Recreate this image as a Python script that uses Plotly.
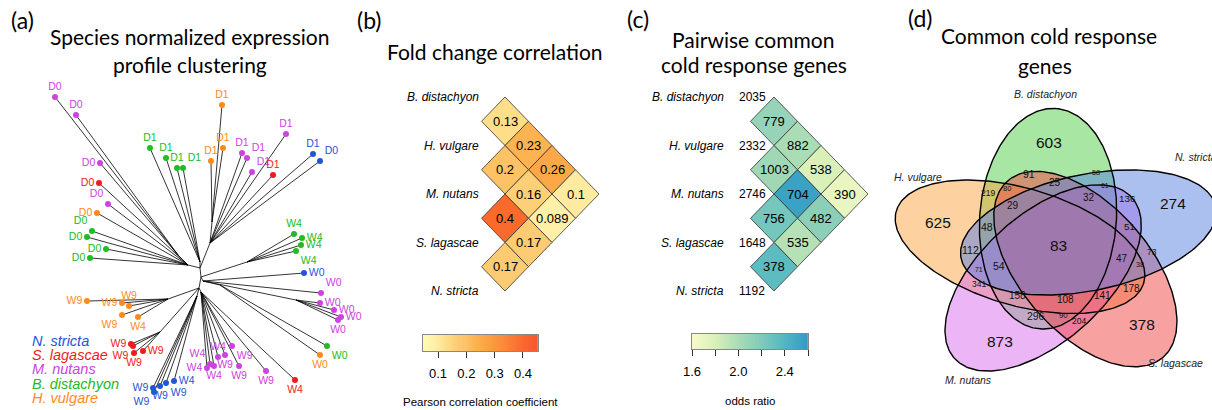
import numpy as np
import plotly.graph_objects as go
from plotly.colors import sample_colorscale

W, H = 1212, 410

# ======================= DATA =======================
species = ["B. distachyon", "H. vulgare", "M. nutans", "S. lagascae", "N. stricta"]
species_code = ["B", "H", "M", "S", "N"]

# ---- (a) expression-profile tree (leaf layout) ----
legend_order = ["N", "S", "M", "B", "H"]
leaf_label = ["D0"] * 10 + ["D1"] * 4 + ["D1"] * 9 + ["D0"] + ["W4"] * 4 + ["W0"] + \
             ["W0"] * 5 + ["W0", "W0"] + ["W4"] + ["W9"] * 4 + ["W4"] * 4 + \
             ["W9"] * 4 + ["W4"] + ["W9"] * 4 + ["W9"] * 4 + ["W4"]
leaf_species = ["M", "M", "M", "S", "M", "H", "B", "B", "B", "B",
                "B", "B", "B", "B",
                "H", "H", "H", "M", "M", "M", "M", "S", "N", "N",
                "B", "B", "B", "B",
                "N",
                "M", "M", "M", "M", "M",
                "B", "H",
                "S",
                "M", "M", "M", "M", "M", "M", "M", "M",
                "N", "N", "N", "N", "N",
                "S", "S", "S", "S",
                "H", "H", "H", "H", "H"]
leaf_x = [55, 76, 100, 99, 108, 97, 92, 87, 106, 90,
          150, 166, 177, 183,
          222, 211, 223, 242, 247, 252, 286, 273, 313, 320,
          294, 302, 301, 296,
          304,
          321, 320, 334, 341, 338,
          327, 320,
          295,
          266, 239, 232, 225, 218, 214, 210, 207,
          153, 154, 160, 166, 174,
          131, 133, 134, 143,
          87, 122, 129, 122, 138]
leaf_y = [97, 115, 163, 183, 204, 213, 231, 237, 249, 258,
          148, 158, 168, 168,
          105, 161, 148, 153, 158, 172, 134, 175, 154, 161,
          234, 238, 245, 251,
          273,
          293, 303, 310, 317, 320,
          346, 355,
          380,
          371, 366, 346, 355, 357, 366, 364, 368,
          388, 392, 386, 383, 381,
          344, 346, 353, 351,
          301, 303, 306, 315, 317]
leaf_parent = ["Dm"] * 3 + ["Dn"] * 7 + ["Dg"] * 4 + ["Dho"] * 3 + ["Do"] * 7 + \
              ["Wg"] * 4 + ["Bn", "Bn"] + ["Wm"] * 4 + ["Wgo"] * 2 + ["Lm"] * 9 + \
              ["Lb"] * 5 + ["Lr"] * 4 + ["Lo"] * 5
node_name = ["R", "A", "Dn", "Dm", "Dg", "Do", "Dho", "Wg", "Bn", "Wm", "Wgo",
             "L", "Lm", "Lb", "Lr", "Lo"]
node_x = [201, 200, 188, 178, 200, 210, 212, 247, 203, 296, 220, 199, 201, 197, 160, 168]
node_y = [277, 268, 265, 255, 262, 243, 222, 262, 281, 300, 285, 288, 292, 296, 332, 299]
node_parent = [None, "R", "A", "Dn", "A", "A", "Do", "R", "R", "Bn", "Bn",
               "R", "L", "L", "L", "L"]

# ---- (b) fold change correlation ----
pair_a = [0, 0, 0, 0, 1, 1, 1, 2, 2, 3]
pair_b = [1, 2, 3, 4, 2, 3, 4, 3, 4, 4]
fold_corr = [0.13, 0.23, 0.26, 0.1, 0.2, 0.16, 0.089, 0.4, 0.17, 0.17]
corr_ticks = [0.1, 0.2, 0.3, 0.4]

# ---- (c) pairwise common cold response genes ----
species_total = [2035, 2332, 2746, 1648, 1192]
common_genes = [779, 882, 538, 390, 1003, 704, 482, 756, 535, 378]
odds_ratio = [2.1, 2.0, 1.8, 1.7, 2.05, 2.55, 2.15, 2.25, 1.95, 2.35]
odds_ticks = [1.6, 1.8, 2.0, 2.2, 2.4, 2.6]
odds_ticktext = ["1.6", "", "2.0", "", "2.4", ""]

# ---- (d) five-set Venn counts ----
venn_counts = [603, 625, 873, 378, 274, 83,
               91, 58, 25, 219, 80, 61, 136, 29, 32, 48, 51,
               112, 47, 73, 54, 71, 38, 341, 158, 108, 141, 178, 296, 90, 204]

# ======================= STYLE / LAYOUT =======================
sp_color = {"B": "#22bb22", "H": "#ff8a1c", "M": "#cc44dd", "S": "#ee1c1c", "N": "#1f55d8"}
TXT = "Liberation Sans, Arial, sans-serif"
TTL = "Lato, Open Sans, sans-serif"

fig = go.Figure()

# ---------- (a) tree ----------
nodes = {n: (x, y) for n, x, y in zip(node_name, node_x, node_y)}
ex, ey = [], []
for n, p in zip(node_name, node_parent):
    if p is None:
        continue
    ex += [nodes[p][0], nodes[n][0], None]
    ey += [nodes[p][1], nodes[n][1], None]
for x, y, p in zip(leaf_x, leaf_y, leaf_parent):
    ex += [nodes[p][0], x, None]
    ey += [nodes[p][1], y, None]
fig.add_trace(go.Scatter(x=ex, y=ey, mode="lines", line=dict(color="black", width=0.8),
                         hoverinfo="skip", showlegend=False))

leaf_textpos = ["top center", "top center", "middle left", "middle left", "top left",
                "middle left", "top left", "middle left", "middle left", "middle left",
                "top center", "top center", "top center", "top right",
                "top center", "top center", "top center", "top center", "top right",
                "top right", "top center", "top center", "top center", "top right",
                "top center", "middle right", "middle right", "bottom right",
                "middle right",
                "top right", "middle right", "middle right", "middle right", "bottom center",
                "bottom right", "bottom center",
                "bottom center",
                "bottom center", "bottom center", "bottom right", "bottom center",
                "top center", "bottom center", "top left", "middle left",
                "middle left", "bottom left", "bottom center", "bottom right", "middle right",
                "middle left", "bottom left", "bottom center", "middle right",
                "middle left", "middle left", "top center", "bottom left", "bottom center"]

for code in species_code:
    idx = [i for i, s in enumerate(leaf_species) if s == code]
    fig.add_trace(go.Scatter(
        x=[leaf_x[i] for i in idx], y=[leaf_y[i] for i in idx],
        text=[leaf_label[i] for i in idx],
        textposition=[leaf_textpos[i] for i in idx],
        mode="markers+text",
        marker=dict(color=sp_color[code], size=6),
        textfont=dict(family=TXT, size=10.5, color=sp_color[code]),
        hoverinfo="skip", showlegend=False, cliponaxis=False))

annotations = []
for k, code in enumerate(legend_order):
    annotations.append(dict(x=30, y=341 + 14.2 * k, xref="x", yref="y", xanchor="left",
                            yanchor="middle", showarrow=False,
                            text="<i>%s</i>" % species[species_code.index(code)],
                            font=dict(family=TXT, size=14.5, color=sp_color[code])))

# ---------- heat-triangle helper ----------
ROW_Y0, ROW_DY, HALF_W = 97, 48.5, 23.5


def diamond(cx, cy):
    hh = ROW_DY / 2
    return [cx - HALF_W, cx, cx + HALF_W, cx, cx - HALF_W], [cy, cy - hh, cy, cy + hh, cy]


# ---------- (b) ----------
corr_min, corr_max = 0.047, 0.453
corr_scale = [[0.0, "#fffcb2"], [0.10, "#fff0a8"], [0.2, "#fedf8a"], [0.30, "#fdcb72"],
              [0.38, "#fdc266"], [0.45, "#fdb352"], [0.52, "#fca948"], [0.70, "#fb8a3a"],
              [0.87, "#f96a2c"], [1.0, "#f9552c"]]
B_X0 = 505
for a, b, v in zip(pair_a, pair_b, fold_corr):
    cx = B_X0 + HALF_W * (b - a - 1)
    cy = ROW_Y0 + ROW_DY * (a + b) / 2
    col = sample_colorscale(corr_scale, [(v - corr_min) / (corr_max - corr_min)])[0]
    xs, ys = diamond(cx, cy)
    fig.add_trace(go.Scatter(x=xs, y=ys, mode="lines", fill="toself", fillcolor=col,
                             line=dict(color="#333333", width=0.8), hoverinfo="skip",
                             showlegend=False))
    annotations.append(dict(x=cx, y=cy, xref="x", yref="y", showarrow=False,
                            text=f"{v:g}", font=dict(family=TXT, size=13, color="black")))
for i, s in enumerate(species):
    annotations.append(dict(x=481, y=ROW_Y0 + ROW_DY * i, xref="x", yref="y",
                            xanchor="right", showarrow=False, text="<i>%s</i>" % s,
                            font=dict(family=TXT, size=12, color="black")))

# ---------- (c) ----------
odds_min, odds_max = 1.6, 2.6
odds_scale = [[0.0, "#f8fbcb"], [0.2, "#d9f0b9"], [0.4, "#aadcb5"], [0.55, "#8ccfb9"],
              [0.75, "#5dbcc0"], [0.95, "#3aa2c4"], [1.0, "#3399c2"]]
C_X0 = 774
for a, b, n, v in zip(pair_a, pair_b, common_genes, odds_ratio):
    cx = C_X0 + HALF_W * (b - a - 1)
    cy = ROW_Y0 + ROW_DY * (a + b) / 2
    col = sample_colorscale(odds_scale, [(v - odds_min) / (odds_max - odds_min)])[0]
    xs, ys = diamond(cx, cy)
    fig.add_trace(go.Scatter(x=xs, y=ys, mode="lines", fill="toself", fillcolor=col,
                             line=dict(color="#333333", width=0.8), hoverinfo="skip",
                             showlegend=False))
    annotations.append(dict(x=cx, y=cy, xref="x", yref="y", showarrow=False,
                            text=str(n), font=dict(family=TXT, size=13, color="black")))
for i, (s, t) in enumerate(zip(species, species_total)):
    annotations.append(dict(x=726, y=ROW_Y0 + ROW_DY * i, xref="x", yref="y",
                            xanchor="right", showarrow=False, text="<i>%s</i>" % s,
                            font=dict(family=TXT, size=12, color="black")))
    annotations.append(dict(x=737, y=ROW_Y0 + ROW_DY * i, xref="x", yref="y",
                            xanchor="left", showarrow=False, text=str(t),
                            font=dict(family=TXT, size=12, color="black")))

# ---------- colour bars (own axes) ----------
grad_b = np.linspace(corr_min, corr_max, 300)
fig.add_trace(go.Heatmap(x=grad_b, y=[0.5], z=[grad_b], colorscale=corr_scale,
                         zmin=corr_min, zmax=corr_max, showscale=False, hoverinfo="skip",
                         xaxis="x2", yaxis="y2"))
grad_c = np.linspace(odds_min, odds_max, 300)
fig.add_trace(go.Heatmap(x=grad_c, y=[0.5], z=[grad_c], colorscale=odds_scale,
                         zmin=odds_min, zmax=odds_max, showscale=False, hoverinfo="skip",
                         xaxis="x3", yaxis="y3"))
annotations.append(dict(x=480, y=402, xref="x", yref="y", showarrow=False,
                        text="Pearson correlation coefficient",
                        font=dict(family=TXT, size=11.5, color="black")))
annotations.append(dict(x=750, y=401, xref="x", yref="y", showarrow=False,
                        text="odds ratio", font=dict(family=TXT, size=11.5, color="black")))

# ---------- (d) Venn ----------
V_CX, V_CY, V_SX, V_SY = 1057, 249, 285, 240
V_DIST, V_A, V_B, V_OFF0, V_ROT0 = 0.13, 0.24, 0.46, 104, 87
venn_fill = ["rgba(81,205,71,0.5)", "rgba(251,163,65,0.5)", "rgba(217,107,235,0.5)",
             "rgba(241,67,67,0.5)", "rgba(89,129,225,0.5)"]
tt = np.linspace(0, 2 * np.pi, 240)
outlines = []
for k in range(5):
    th = np.radians(V_OFF0 + 72 * k)
    ps = np.radians(V_ROT0 + 72 * k)
    cu, cv = V_DIST * np.cos(th), V_DIST * np.sin(th)
    u = cu + V_B * np.cos(tt) * np.cos(ps) - V_A * np.sin(tt) * np.sin(ps)
    v = cv + V_B * np.cos(tt) * np.sin(ps) + V_A * np.sin(tt) * np.cos(ps)
    x = V_CX + V_SX * u
    y = V_CY - V_SY * v
    outlines.append((x, y))
    fig.add_trace(go.Scatter(x=x, y=y, mode="lines", fill="toself", fillcolor=venn_fill[k],
                             line=dict(width=0, color="rgba(0,0,0,0)"), hoverinfo="skip",
                             showlegend=False))
for x, y in outlines:
    fig.add_trace(go.Scatter(x=x, y=y, mode="lines", line=dict(color="black", width=1.4),
                             hoverinfo="skip", showlegend=False))

venn_label_xy = [(1049, 142), (938, 222), (1000, 341), (1142, 324), (1173, 203), (1058, 245),
                 (1029, 174), (1096, 172), (1055, 182), (988, 193), (1007, 188), (1105, 185),
                 (1127, 198), (1013, 205), (1089, 197), (987, 227), (1129, 226),
                 (970, 250), (1122, 258), (1152, 252), (999, 266), (979, 269), (1140, 264),
                 (979, 284), (1017, 295), (1065, 299), (1102, 295), (1131, 288), (1036, 316),
                 (1063, 315), (1079, 321)]
venn_label_size = [15.5] * 6 + [10.5, 7.2, 10, 8.5, 7.5, 6.8, 9.8, 10, 10, 10.5, 9.8,
                                10.5, 10, 8.5, 10.5, 6.8, 7.2, 8.5, 10, 10, 10, 10, 10.4, 7.8, 8.5]
for n, (x, y), s in zip(venn_counts, venn_label_xy, venn_label_size):
    annotations.append(dict(x=x, y=y, xref="x", yref="y", showarrow=False, text=str(n),
                            font=dict(family=TXT, size=s, color="#111111")))
venn_cat_xy = [(1045, 94, "center"), (918, 177, "center"), (968, 380, "center"),
               (1175, 363, "center"), (1173, 157, "left")]
for s, (x, y, anc) in zip(species, venn_cat_xy):
    annotations.append(dict(x=x, y=y, xref="x", yref="y", xanchor=anc, showarrow=False,
                            text="<i>%s</i>" % s,
                            font=dict(family=TXT, size=10.5, color="#222222")))

# ---------- titles ----------
titles = [((22, 20), "(a)", 23), ((189, 36), "Species normalized expression", 21),
          ((190, 64), "profile clustering", 21),
          ((369, 20), "(b)", 23), ((495, 51), "Fold change correlation", 21),
          ((638, 19), "(c)", 23), ((753, 39), "Pairwise common", 21),
          ((754, 64), "cold response genes", 21),
          ((920, 18), "(d)", 23), ((1049, 35), "Common cold response", 21),
          ((1045, 65), "genes", 21)]
for (x, y), t, s in titles:
    annotations.append(dict(x=x, y=y, xref="x", yref="y", showarrow=False, text=t,
                            font=dict(family=TTL, size=s, color="black")))


def px2paper_x(p):
    return p / W


def px2paper_y(p):
    return 1 - p / H


cb_axis_common = dict(ticks="outside", ticklen=6, tickcolor="#333333", showline=True,
                      mirror=True, linecolor="#888888", linewidth=1, showgrid=False,
                      zeroline=False, tickfont=dict(family=TXT, size=13, color="black"),
                      ticklabelstandoff=4, fixedrange=True, automargin=False)
fig.update_layout(
    width=W, height=H, margin=dict(l=0, r=0, t=0, b=0, pad=0, autoexpand=False),
    paper_bgcolor="white", plot_bgcolor="rgba(0,0,0,0)",
    xaxis=dict(range=[0, W], visible=False, fixedrange=True, domain=[0, 1], automargin=False),
    yaxis=dict(range=[H, 0], visible=False, fixedrange=True, domain=[0, 1], automargin=False),
    xaxis2=dict(domain=[px2paper_x(423), px2paper_x(538)], range=[corr_min, corr_max],
                anchor="y2", tickvals=corr_ticks, ticktext=[f"{t:g}" for t in corr_ticks],
                **cb_axis_common),
    yaxis2=dict(domain=[px2paper_y(351), px2paper_y(335)], range=[0, 1], anchor="x2",
                showticklabels=False, ticks="", showline=True, mirror=True,
                linecolor="#888888", showgrid=False, zeroline=False, fixedrange=True,
                automargin=False),
    xaxis3=dict(domain=[px2paper_x(692), px2paper_x(808)], range=[odds_min, odds_max],
                anchor="y3", tickvals=odds_ticks, ticktext=odds_ticktext, **cb_axis_common),
    yaxis3=dict(domain=[px2paper_y(349), px2paper_y(334)], range=[0, 1], anchor="x3",
                showticklabels=False, ticks="", showline=True, mirror=True,
                linecolor="#888888", showgrid=False, zeroline=False, fixedrange=True,
                automargin=False),
    annotations=annotations,
    showlegend=False,
)

fig.write_html("out.html", config={"displayModeBar": False},
               post_script="document.body.style.margin='0px';"
                           "document.body.style.overflow='hidden';")
